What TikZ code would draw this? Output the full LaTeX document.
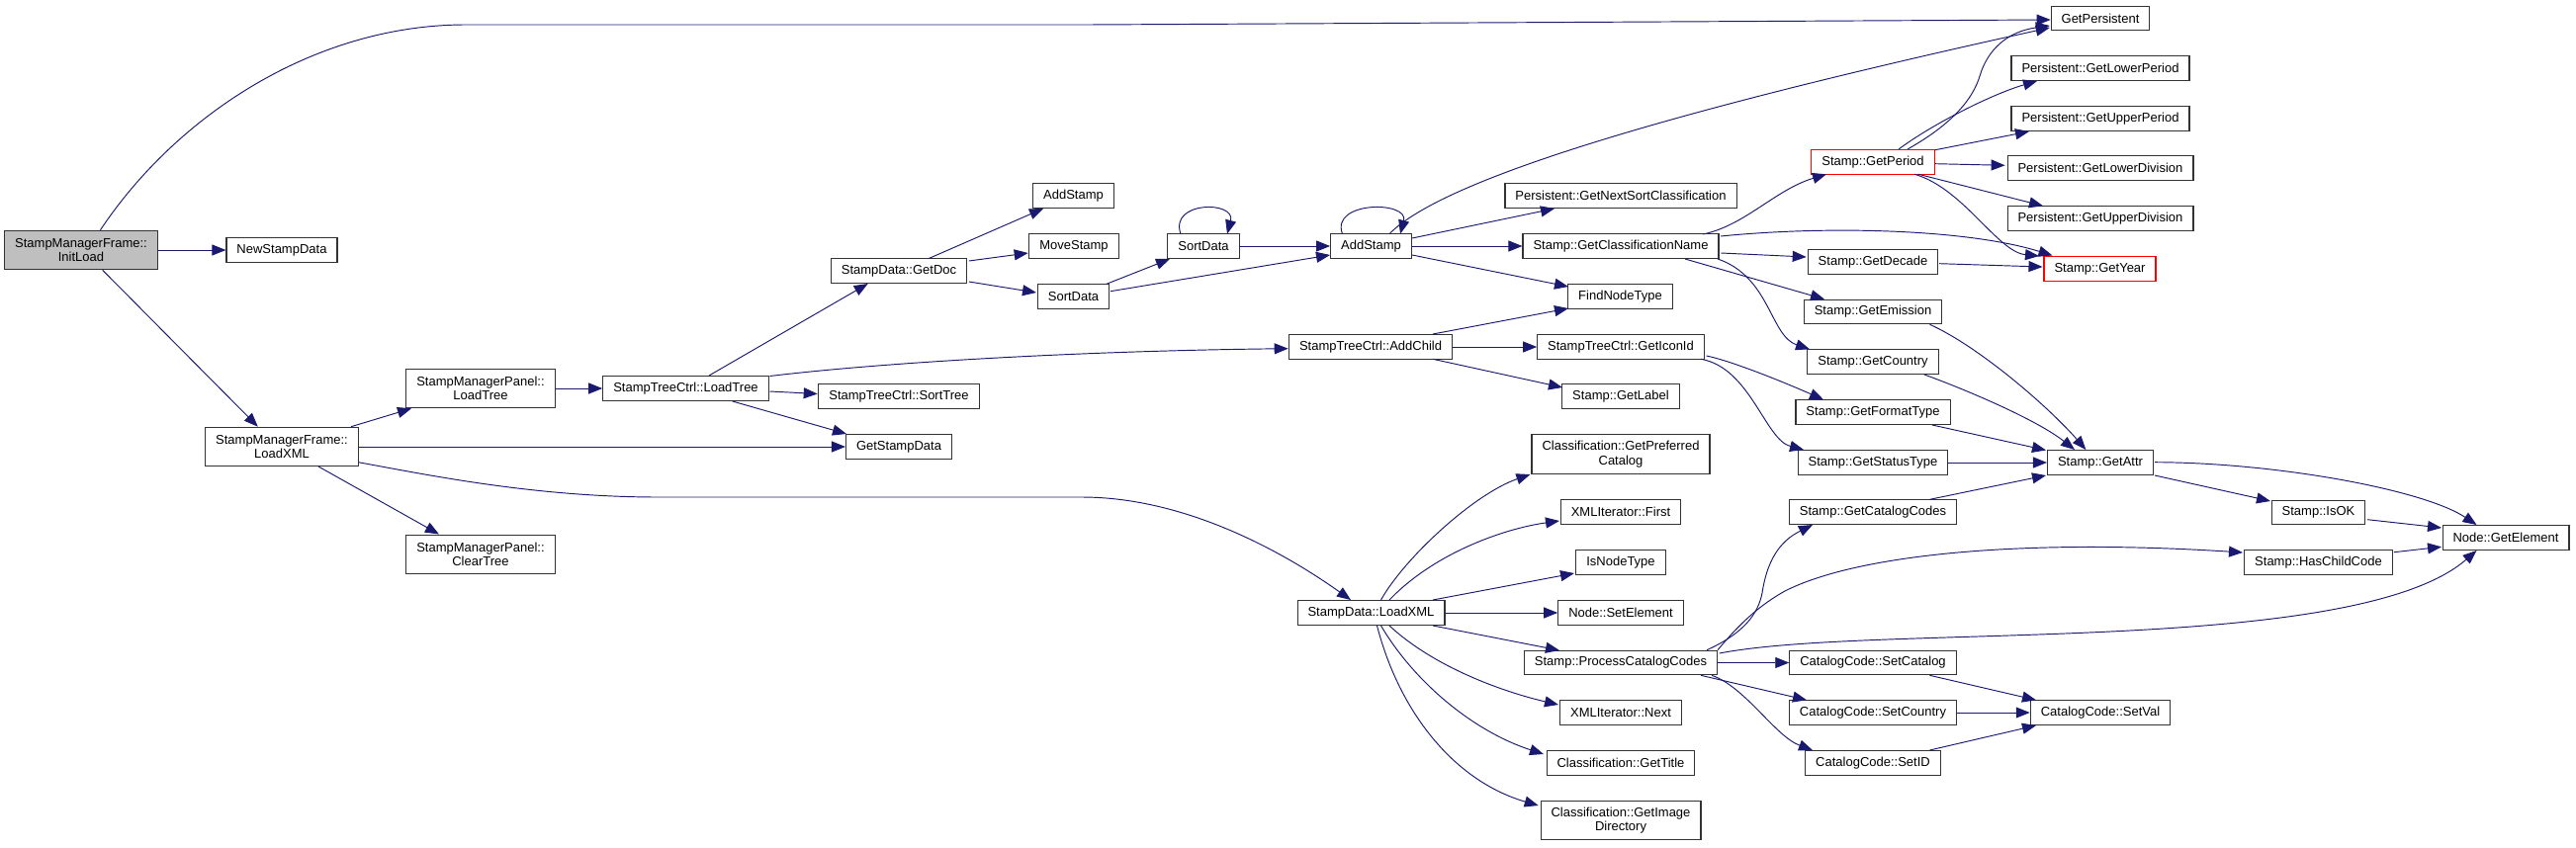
\documentclass[tikz,border=0pt]{standalone}
\usepackage{fontspec}
\setmainfont{Liberation Sans}
\usetikzlibrary{arrows.meta,calc}
\definecolor{edgec}{HTML}{191970}
\definecolor{rootfill}{HTML}{BFBFBF}
\begin{document}
\begin{tikzpicture}[x=1pt,y=-1pt,
  box/.style={draw=black!80, line width=1.1pt, fill=white, font=\fontsize{13}{14.3}\selectfont,
    inner xsep=10.5pt, inner ysep=3pt, minimum height=24.5pt, align=center},
  two/.style={minimum height=39.5pt},
  root/.style={fill=rootfill},
  hot/.style={draw=red},
  e/.style={draw=edgec, line width=0.95pt, -{Triangle[length=14pt,width=11pt]}}]
\useasboundingbox (0,0) rectangle (2605,857);
% nodes
\node[box,two,root] (initload) at (82,253) {StampManagerFrame::\\InitLoad};
\node[box] (newstamp) at (285,253) {NewStampData};
\node[box,two] (smfloadxml) at (285,452) {StampManagerFrame::\\LoadXML};
\node[box,two] (smploadtree) at (486,393) {StampManagerPanel::\\LoadTree};
\node[box,two] (cleartree) at (486,561) {StampManagerPanel::\\ClearTree};
\node[box] (stcloadtree) at (693.5,393) {StampTreeCtrl::LoadTree};
\node[box] (getdoc) at (909,274) {StampData::GetDoc};
\node[box] (sorttree) at (909,401) {StampTreeCtrl::SortTree};
\node[box] (getstampdata) at (909,452) {GetStampData};
\node[box] (addstampA) at (1085.5,198) {AddStamp};
\node[box] (movestamp) at (1086,249) {MoveStamp};
\node[box] (sortdataA) at (1085.5,300) {SortData};
\node[box] (sortdataB) at (1217,249) {SortData};
\node[box] (addstampB) at (1386.5,249) {AddStamp};
\node[box] (addchild) at (1386,351) {StampTreeCtrl::AddChild};
\node[box] (sdloadxml) at (1386.5,620) {StampData::LoadXML};
\node[box] (nextsort) at (1639,198) {Persistent::GetNextSortClassification};
\node[box] (classname) at (1639,249) {Stamp::GetClassificationName};
\node[box] (findnode) at (1638.5,300) {FindNodeType};
\node[box] (iconid) at (1639,351) {StampTreeCtrl::GetIconId};
\node[box] (getlabel) at (1639,401) {Stamp::GetLabel};
\node[box,two] (prefcat) at (1639,459.5) {Classification::GetPreferred\\Catalog};
\node[box] (xmlfirst) at (1639,518) {XMLIterator::First};
\node[box] (isnodetype) at (1639,569) {IsNodeType};
\node[box] (setelement) at (1639,620) {Node::SetElement};
\node[box] (proccat) at (1639,670.5) {Stamp::ProcessCatalogCodes};
\node[box] (xmlnext) at (1639,721) {XMLIterator::Next};
\node[box] (gettitle) at (1639,772) {Classification::GetTitle};
\node[box,two] (imagedir) at (1639,830) {Classification::GetImage\\Directory};
\node[box,hot] (getperiod) at (1894,164) {Stamp::GetPeriod};
\node[box] (getdecade) at (1894,265) {Stamp::GetDecade};
\node[box] (getemission) at (1894,315.5) {Stamp::GetEmission};
\node[box] (getcountry) at (1894,366) {Stamp::GetCountry};
\node[box] (formattype) at (1894,417) {Stamp::GetFormatType};
\node[box] (statustype) at (1894,468) {Stamp::GetStatusType};
\node[box] (catcodes) at (1894,518) {Stamp::GetCatalogCodes};
\node[box] (setcatalog) at (1894,670.5) {CatalogCode::SetCatalog};
\node[box] (setcountry) at (1894,721) {CatalogCode::SetCountry};
\node[box] (setid) at (1894,772) {CatalogCode::SetID};
\node[box] (getpersistent) at (2124,18.5) {GetPersistent};
\node[box] (lowerperiod) at (2124,69) {Persistent::GetLowerPeriod};
\node[box] (upperperiod) at (2124,120) {Persistent::GetUpperPeriod};
\node[box] (lowerdiv) at (2124,170) {Persistent::GetLowerDivision};
\node[box] (upperdiv) at (2124,221) {Persistent::GetUpperDivision};
\node[box,hot] (getyear) at (2123.5,272) {Stamp::GetYear};
\node[box] (getattr) at (2124,468) {Stamp::GetAttr};
\node[box] (setval) at (2124,721) {CatalogCode::SetVal};
\node[box] (isok) at (2344.5,518.5) {Stamp::IsOK};
\node[box] (haschild) at (2344.5,569) {Stamp::HasChildCode};
\node[box] (getelement) at (2534,544) {Node::GetElement};
% edges
\draw[e] ($(initload)+(19.5,-20.3)$) .. controls (180,115) and (320,25) .. (471,25) -- (1100,25) -- ($(getpersistent.west)+(0,1.5)$);
\draw[e] (initload.east) -- (newstamp.west);
\draw[e] ($(initload)+(21.7,20.3)$) -- ($(smfloadxml)+(-24.2,-20.3)$);
\draw[e] ($(smfloadxml)+(70,-20.3)$) -- ($(smploadtree)+(-70,20.3)$);
\draw[e] (smfloadxml.east) -- (getstampdata.west);
\draw[e] ($(smfloadxml)+(77.3,15.7)$) .. controls (430,480) and (540,503) .. (666,503) -- (1094,503) .. controls (1200,503) and (1300,560) .. ($(sdloadxml)+(-20.5,-13)$);
\draw[e] ($(smfloadxml)+(37,20)$) -- ($(cleartree)+(-42,-20.5)$);
\draw[e] (smploadtree.east) -- (stcloadtree.west);
\draw[e] ($(stcloadtree)+(23.5,-13)$) -- ($(getdoc)+(-31.3,13)$);
\draw[e] ($(stcloadtree)+(85,-12.5)$) .. controls (900,366) and (1100,355) .. ($(addchild)+(-83.3,1.7)$);
\draw[e] ($(stcloadtree)+(85,3)$) -- ($(sorttree)+(-82.3,-2.5)$);
\draw[e] ($(stcloadtree)+(47.2,13)$) -- ($(getstampdata)+(-53,-13)$);
\draw[e] ($(getdoc)+(29.8,-12.3)$) -- ($(addstampA)+(-30.5,13)$);
\draw[e] ($(getdoc)+(70.8,-10)$) -- ($(movestamp)+(-46.3,7)$);
\draw[e] ($(getdoc)+(70.8,11)$) -- ($(sortdataA)+(-37.5,-4)$);
\draw[e] ($(sortdataA)+(33.5,-12.7)$) -- ($(sortdataB)+(-34,13)$);
\draw[e] ($(sortdataA)+(37.5,-5.3)$) -- ($(addstampB)+(-41.5,9)$);
\draw[e] ($(sortdataB)+(-23,-12.3)$) .. controls (1182,203) and (1250,203) .. ($(sortdataB)+(24,-12.3)$);
\draw[e] (sortdataB.east) -- (addstampB.west);
\draw[e] ($(addstampB)+(-29,-12.3)$) .. controls (1345,203) and (1425,203) .. ($(addstampB)+(29.5,-12.3)$);
\draw[e] ($(addstampB)+(18.5,-12.3)$) .. controls (1460,180) and (1700,110) .. ($(getpersistent)+(-51.2,9.5)$);
\draw[e] ($(addstampB)+(41.5,-8)$) -- ($(nextsort)+(-67,13)$);
\draw[e] (addstampB.east) -- (classname.west);
\draw[e] ($(addstampB)+(41.5,9)$) -- ($(findnode)+(-52.5,-10)$);
\draw[e] ($(addchild)+(63,-13)$) -- ($(findnode)+(-52.5,12)$);
\draw[e] (addchild.east) -- (iconid.west);
\draw[e] ($(addchild)+(63,12.3)$) -- ($(getlabel)+(-59,-9)$);
\draw[e] ($(classname)+(83,-12)$) .. controls (1765,228) and (1795,192) .. ($(getperiod)+(-47,12.3)$);
\draw[e] ($(classname)+(101,-10)$) .. controls (1850,228) and (1990,232) .. ($(getyear)+(-48,-13.5)$);
\draw[e] ($(classname)+(101.3,7)$) -- ($(getdecade)+(-67.3,-5)$);
\draw[e] ($(classname)+(65,13)$) -- ($(getemission)+(-49,-12.8)$);
\draw[e] ($(classname)+(98,13)$) .. controls (1790,280) and (1790,340) .. ($(getcountry)+(-64,-12.7)$);
\draw[e] ($(getperiod)+(35,-13)$) .. controls (1975,125) and (1995,100) .. (2002,77) .. controls (2010,50) and (2030,32) .. ($(getpersistent)+(-51.2,7.5)$);
\draw[e] ($(getperiod)+(26,-13)$) .. controls (1955,125) and (2015,95) .. ($(lowerperiod)+(-64,13)$);
\draw[e] ($(getperiod)+(63,-12.3)$) -- ($(upperperiod)+(-72,13)$);
\draw[e] ($(getperiod)+(63,1.7)$) -- ($(lowerdiv)+(-96.4,-2.7)$);
\draw[e] ($(getperiod)+(46,12.3)$) -- ($(upperdiv)+(-58,-12.7)$);
\draw[e] ($(getperiod)+(42,12.3)$) .. controls (1985,190) and (2020,255) .. ($(getyear)+(-61.5,-13)$);
\draw[e] ($(getdecade)+(67,1.7)$) -- ($(getyear)+(-58,-2)$);
\draw[e] ($(getemission)+(57.5,12.8)$) .. controls (2000,350) and (2070,410) .. ($(getattr)+(-14.6,-13)$);
\draw[e] ($(getcountry)+(52,13)$) .. controls (1990,395) and (2060,425) .. ($(getattr)+(-26,-13)$);
\draw[e] ($(formattype)+(60,13)$) -- ($(getattr)+(-55,-12.5)$);
\draw[e] (statustype.east) -- (getattr.west);
\draw[e] ($(catcodes)+(57.5,-12.7)$) -- ($(getattr)+(-55,13)$);
\draw[e] ($(iconid)+(86.6,9)$) .. controls (1750,365) and (1800,385) .. ($(formattype)+(-50,-12.7)$);
\draw[e] ($(iconid)+(81,12.3)$) .. controls (1770,372) and (1785,445) .. ($(statustype)+(-70,-13)$);
\draw[e] ($(getattr)+(55,-0.3)$) .. controls (2300,468) and (2450,495) .. ($(getelement)+(-29.5,-13)$);
\draw[e] ($(getattr)+(55,13)$) -- ($(isok)+(-48.5,-11.5)$);
\draw[e] ($(isok)+(49.5,7.2)$) -- ($(getelement)+(-65,-10)$);
\draw[e] ($(haschild)+(76.5,-10.3)$) -- ($(getelement)+(-65,9.3)$);
\draw[e] ($(proccat)+(87,-12.8)$) .. controls (1765,640) and (1778,620) .. (1782,600) .. controls (1788,560) and (1805,545) .. ($(catcodes)+(-61,13)$);
\draw[e] ($(proccat)+(98,-12.8)$) .. controls (1760,630) and (1780,612) .. (1805,598) .. controls (1880,560) and (2050,545) .. ($(haschild)+(-76.5,-10)$);
\draw[e] ($(proccat)+(99.6,-9.5)$) .. controls (1900,630) and (2380,665) .. ($(getelement)+(-29.5,13)$);
\draw[e] (proccat.east) -- (setcatalog.west);
\draw[e] ($(proccat)+(81,12.8)$) -- ($(setcountry)+(-67,-12.7)$);
\draw[e] ($(proccat)+(92,12.8)$) .. controls (1765,695) and (1795,745) .. ($(setid)+(-61,-13)$);
\draw[e] ($(setcatalog)+(57.4,12.8)$) -- ($(setval)+(-65,-12.7)$);
\draw[e] (setcountry.east) -- (setval.west);
\draw[e] ($(setid)+(57.4,-13)$) -- ($(setval)+(-65,13)$);
\draw[e] ($(sdloadxml)+(10,-13)$) .. controls (1420,565) and (1490,500) .. ($(prefcat)+(-91.6,20.5)$);
\draw[e] ($(sdloadxml)+(18.5,-13)$) .. controls (1450,560) and (1520,535) .. ($(xmlfirst)+(-62,9)$);
\draw[e] ($(sdloadxml)+(62.5,-13)$) -- ($(isnodetype)+(-47,11)$);
\draw[e] (sdloadxml.east) -- (setelement.west);
\draw[e] ($(sdloadxml)+(62.5,13)$) -- ($(proccat)+(-62,-12.5)$);
\draw[e] ($(sdloadxml)+(18.5,13)$) .. controls (1450,675) and (1520,700) .. ($(xmlnext)+(-63,-8)$);
\draw[e] ($(sdloadxml)+(10,13)$) .. controls (1430,690) and (1490,740) .. ($(gettitle)+(-78,-9)$);
\draw[e] ($(sdloadxml)+(6,13)$) .. controls (1415,720) and (1470,790) .. ($(imagedir)+(-83.3,-15)$);
\end{tikzpicture}
\end{document}
